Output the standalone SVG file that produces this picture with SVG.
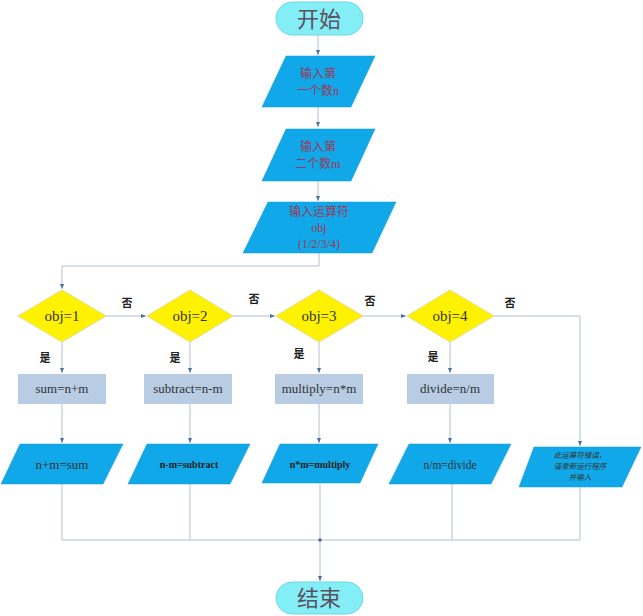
<svg xmlns="http://www.w3.org/2000/svg" width="643" height="616" viewBox="0 0 643 616">
<defs>
<marker id="ah" markerWidth="6" markerHeight="6" refX="5" refY="3" orient="auto" markerUnits="userSpaceOnUse">
<path d="M0,1 L5,3 L0,5 Z" fill="#4a6fa5"/>
</marker>
<style>
.term{fill:#84EEF6;stroke:#6fd6e6;stroke-width:1}
.io{fill:#10A8E8;stroke:#0e98d2;stroke-width:0.5}
.dec{fill:#FFF200;stroke:#e6dc8a;stroke-width:1}
.proc{fill:#B8CCE4;stroke:none}
.c{fill:none;stroke:#AFC0D0;stroke-width:1}
.ca{fill:none;stroke:#AFC0D0;stroke-width:1;marker-end:url(#ah)}
.tt{font-family:"Noto Sans CJK SC",sans-serif;font-size:22px;fill:#5a5060;text-anchor:middle}
.ti{font-family:"Liberation Serif","Noto Sans CJK SC",serif;font-size:12px;fill:#9B3A5A;text-anchor:middle}
.td{font-family:"Liberation Serif",serif;font-size:15px;fill:#333;text-anchor:middle}
.tp{font-family:"Liberation Serif",serif;font-size:13px;fill:#333;text-anchor:middle}
.to{font-family:"Liberation Serif",serif;font-size:10px;font-weight:bold;fill:#222;text-anchor:middle}
.tl{font-family:"Noto Sans CJK SC",serif;font-size:11px;font-weight:bold;fill:#222;text-anchor:middle}
.te{font-family:"Noto Sans CJK SC",sans-serif;font-size:7.5px;font-style:italic;fill:#333;text-anchor:middle}
</style>
</defs>
<g id="connectors">
<path class="ca" d="M318,35 V55"/>
<path class="ca" d="M318,107 V127"/>
<path class="ca" d="M318,181 V201"/>
<path class="ca" d="M319,253 V266 H62 V289"/>
<path class="ca" d="M106,316 H146"/>
<path class="ca" d="M233,316 H275"/>
<path class="ca" d="M363,316 H406"/>
<path class="ca" d="M494,316 H580 V446"/>
<path class="ca" d="M62,342 V373"/>
<path class="ca" d="M190,342 V373"/>
<path class="ca" d="M319,342 V373"/>
<path class="ca" d="M450,342 V373"/>
<path class="ca" d="M62,404 V443"/>
<path class="ca" d="M190,404 V443"/>
<path class="ca" d="M319,404 V443"/>
<path class="ca" d="M450,404 V443"/>
<path class="c" d="M62,484 V540 M190,484 V540 M320,484 V540 M452,484 V540 M580,487 V540 M62,540 H580"/>
<path class="ca" d="M320,540 V581"/>
<circle cx="320" cy="540" r="1.8" fill="#4a6fa5"/>
</g>
<g id="start">
<rect class="term" x="276" y="2" width="87" height="33" rx="16.5"/>
<text class="tt" x="319" y="27">开始</text>
</g>
<g id="input1">
<polygon class="io" points="286,56 375,56 351,107 262,107"/>
<text class="ti" x="318" y="78">输入第</text>
<text class="ti" x="318" y="95">一个数n</text>
</g>
<g id="input2">
<polygon class="io" points="286,129 375,129 351,181 262,181"/>
<text class="ti" x="318" y="151">输入第</text>
<text class="ti" x="318" y="168">二个数m</text>
</g>
<g id="input3">
<polygon class="io" points="268,202 396,202 372,253 243,253"/>
<text class="ti" x="319" y="216">输入运算符</text>
<text class="ti" x="319" y="232">obj</text>
<text class="ti" x="319" y="248">(1/2/3/4)</text>
</g>
<g id="dec1">
<polygon class="dec" points="62,290 106,316 62,342 18,316"/>
<text class="td" x="62" y="321">obj=1</text>
</g>
<g id="dec2">
<polygon class="dec" points="190,290 233,316 190,342 147,316"/>
<text class="td" x="190" y="321">obj=2</text>
</g>
<g id="dec3">
<polygon class="dec" points="319,290 363,316 319,342 276,316"/>
<text class="td" x="319" y="321">obj=3</text>
</g>
<g id="dec4">
<polygon class="dec" points="450,290 494,316 450,342 407,316"/>
<text class="td" x="450" y="321">obj=4</text>
</g>
<g id="labels">
<text class="tl" x="127" y="307">否</text>
<text class="tl" x="254" y="303">否</text>
<text class="tl" x="370" y="305">否</text>
<text class="tl" x="510" y="307">否</text>
<text class="tl" x="45" y="362">是</text>
<text class="tl" x="175" y="362">是</text>
<text class="tl" x="299" y="358">是</text>
<text class="tl" x="433" y="361">是</text>
</g>
<g id="proc1">
<rect class="proc" x="18" y="374" width="88" height="30"/>
<text class="tp" x="62" y="393">sum=n+m</text>
</g>
<g id="proc2">
<rect class="proc" x="144" y="374" width="88" height="30"/>
<text class="tp" x="188" y="393">subtract=n-m</text>
</g>
<g id="proc3">
<rect class="proc" x="275" y="374" width="88" height="30"/>
<text class="tp" x="319" y="393">multiply=n*m</text>
</g>
<g id="proc4">
<rect class="proc" x="407" y="374" width="87" height="30"/>
<text class="tp" x="450" y="393">divide=n/m</text>
</g>
<g id="out1">
<polygon class="io" points="20,444 123,444 103,484 1,484"/>
<text class="tp" x="62" y="469">n+m=sum</text>
</g>
<g id="out2">
<polygon class="io" points="147,444 250,444 230,484 128,484"/>
<text class="to" x="189" y="468">n-m=subtract</text>
</g>
<g id="out3">
<polygon class="io" points="280,444 378,444 360,483 262,483"/>
<text class="to" x="320" y="468">n*m=multiply</text>
</g>
<g id="out4">
<polygon class="io" points="409,444 511,444 491,484 389,484"/>
<text class="tp" x="450" y="469" style="font-size:11.5px">n/m=divide</text>
</g>
<g id="out5">
<polygon class="io" points="534,447 641,447 622,487 519,487"/>
<text class="te" x="580" y="458">此运算符错误，</text>
<text class="te" x="580" y="469">请重新运行程序</text>
<text class="te" x="580" y="480">并输入</text>
</g>
<g id="end">
<rect class="term" x="276" y="582" width="87" height="32" rx="16"/>
<text class="tt" x="319" y="606">结束</text>
</g>
</svg>
